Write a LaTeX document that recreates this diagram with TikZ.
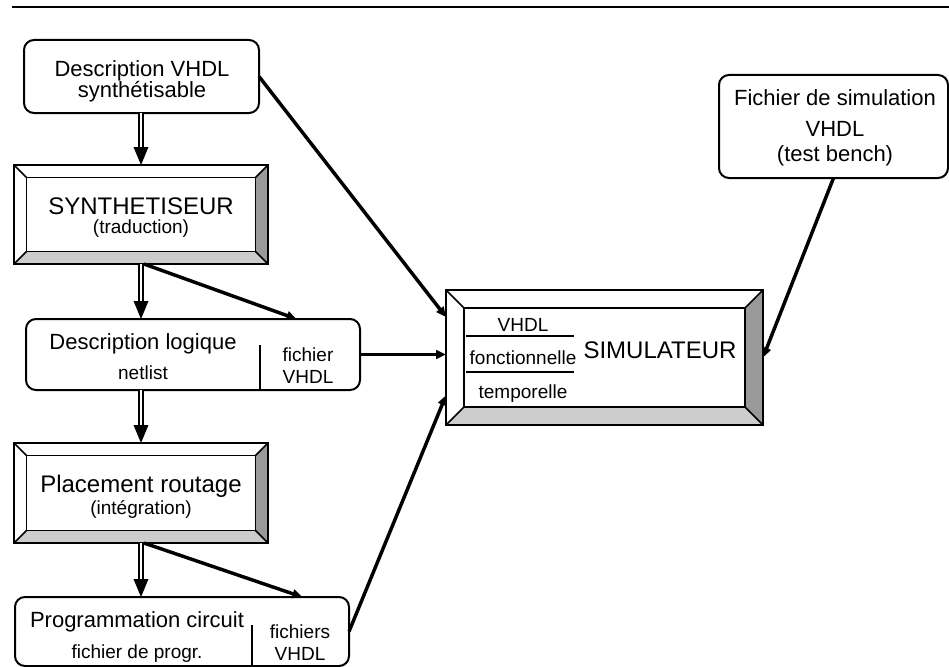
\documentclass[tikz,border=0pt]{standalone}
\usepackage{fontspec}
\setmainfont{Liberation Sans}
\usetikzlibrary{calc,arrows.meta}

\definecolor{bevelgray}{HTML}{999999}
\definecolor{bevellight}{HTML}{CCCCCC}

\tikzset{
  box/.style={draw, line width=1.5pt, rounded corners=7.5pt, fill=white, inner sep=0pt, outer sep=0pt},
  bevelnode/.style={draw, line width=1.3pt, fill=white, inner sep=0pt, outer sep=0pt},
  bevelline/.style={line width=1.1pt},
  txtbig/.style={font=\fontsize{18}{20}\selectfont, anchor=base, inner sep=0pt},
  txtmid/.style={font=\fontsize{16.5}{18}\selectfont, anchor=base, inner sep=0pt},
  txtsmall/.style={font=\fontsize{14.25}{16}\selectfont, anchor=base, inner sep=0pt},
  flow/.style={line width=2.6pt, -{Triangle[length=7.5pt,width=6.5pt]}},
  dblshaft/.style={double, line width=1.9pt, double distance=1.2pt},
  divider/.style={line width=1pt},
}

% beveled box: name, centre, width, height, bevel (all in px units)
\newcommand\bevelbox[5]{%
  \node[bevelnode, minimum width=#3*0.75pt, minimum height=#4*0.75pt] (#1) at (#2) {};
  \fill[bevelgray] (#1.north east) -- (#1.south east) -- ($(#1.south east)+(-#5,-#5)$) -- ($(#1.north east)+(-#5,#5)$) -- cycle;
  \fill[bevellight] (#1.south west) -- (#1.south east) -- ($(#1.south east)+(-#5,-#5)$) -- ($(#1.south west)+(#5,-#5)$) -- cycle;
  \draw[bevelline] ($(#1.north west)+(#5,#5)$) rectangle ($(#1.south east)+(-#5,-#5)$);
  \draw[bevelline] (#1.north west) -- ++(#5,#5) (#1.north east) -- ++(-#5,#5)
                   (#1.south west) -- ++(#5,-#5) (#1.south east) -- ++(-#5,-#5);
  \draw[line width=1.3pt] (#1.north west) rectangle (#1.south east);
}

% thick double arrow going downwards
\newcommand\dblarrow[2]{%
  \draw[dblshaft, shorten >=12pt] (#1) -- (#2);
  \fill ($(#2)+(-7.5,-18)$) -- ($(#2)+(7.5,-18)$) -- (#2) -- cycle;
}

\begin{document}
\begin{tikzpicture}[x=0.75pt, y=-0.75pt]
\useasboundingbox (0,0) rectangle (949,667);

% header rule
\draw[line width=2pt] (12,7) -- (949,7);

% left column
\node[box, minimum width=235*0.75pt, minimum height=73*0.75pt] (d1) at (141.5,76.5) {};
\node[txtmid] (d1a) at (142,77) {Description VHDL};
\node[txtmid] (d1b) at (142,98) {synthétisable};

\bevelbox{s1}{141,214.5}{254}{99}{12.5}
\node[txtbig] (s1a) at (141,214) {SYNTHETISEUR};
\node[txtsmall] (s1b) at (141,233) {(traduction)};

\node[box, minimum width=334*0.75pt, minimum height=71*0.75pt] (d2) at (193,354.5) {};
\draw[divider] (260,345) -- (260,390);
\node[txtmid] (d2a) at (143,349) {Description logique};
\node[txtsmall] (d2b) at (143,379) {netlist};
\node[txtsmall] (d2c) at (308,361) {fichier};
\node[txtsmall] (d2d) at (308,383) {VHDL};

\bevelbox{s2}{141,493}{254}{100}{12.5}
\node[txtbig] (s2a) at (141,492) {Placement routage};
\node[txtsmall] (s2b) at (141,514) {(intégration)};

\node[box, minimum width=334*0.75pt, minimum height=69*0.75pt] (p) at (182,631.5) {};
\draw[divider] (252,625) -- (252,666);
\node[txtmid] (pa) at (137,627) {Programmation circuit};
\node[txtsmall] (pb) at (137,658) {fichier de progr.};
\node[txtsmall] (pc) at (300,638) {fichiers};
\node[txtsmall] (pd) at (300,660) {VHDL};

% simulator
\bevelbox{sim}{604.5,357.5}{317}{135}{18}
\node[txtbig] (sima) at (660,358) {SIMULATEUR};
\node[txtsmall] (simb) at (523,331) {VHDL};
\node[txtsmall] (simc) at (523,364) {fonctionnelle};
\node[txtsmall] (simd) at (523,398) {temporelle};
\draw[divider] (466,336) -- (574,336);
\draw[divider] (466,372) -- (574,372);

% test bench file
\node[box, minimum width=229*0.75pt, minimum height=103*0.75pt] (f) at (833.5,126.5) {};
\node[txtmid] (fa) at (835,105) {Fichier de simulation};
\node[txtmid] (fb) at (835,136) {VHDL};
\node[txtmid] (fc) at (835,161) {(test bench)};

% design flow
\dblarrow{s1.north |- d1.south}{s1.north}
\dblarrow{s1.south}{s1.south |- d2.north}
\dblarrow{s2.north |- d2.south}{s2.north}
\dblarrow{s2.south}{s2.south |- p.north}

% inputs of the simulator
\draw[flow] ($(s1.south)+(3,0)$) -- ($(d2.north west)!0.81!(d2.north east)$);
\draw[flow] ($(s2.south)+(3,0)$) -- ($(p.north west)!0.86!(p.north east)$);
\draw[flow] (d1.east) -- ($(sim.north west)!0.2!(sim.south west)$);
\draw[flow] (d2.east) -- (d2.east -| sim.west);
\draw[flow] (p.east) -- ($(sim.north west)!0.78!(sim.south west)$);
\draw[flow] (f.south) -- (sim.east);
\end{tikzpicture}
\end{document}
